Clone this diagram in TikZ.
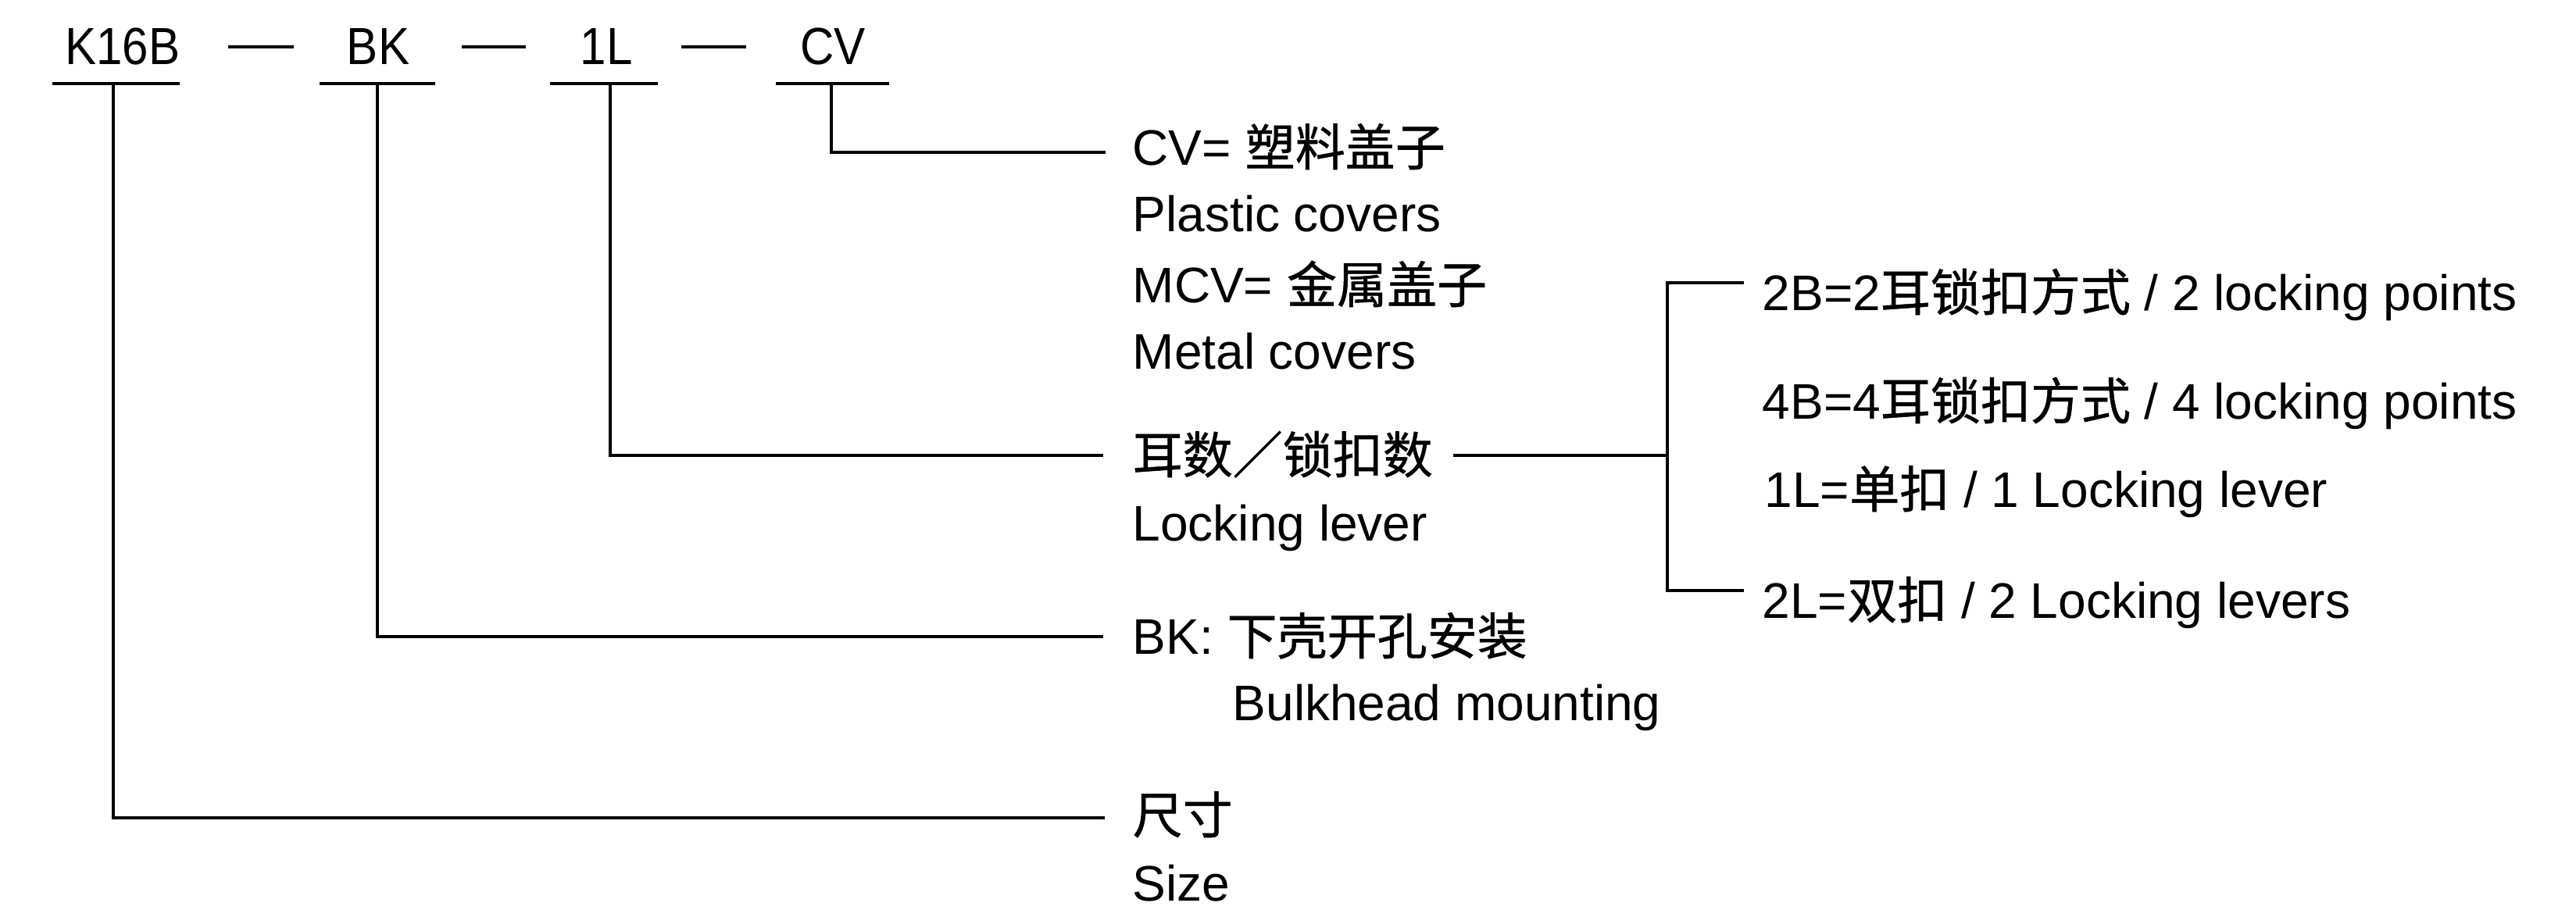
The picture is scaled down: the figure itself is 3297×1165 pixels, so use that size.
\documentclass[tikz,border=0pt]{standalone}
\usepackage{fontspec}
\setmainfont{Liberation Sans}
\newfontfamily\cjk[FakeBold=0.8]{Noto Sans CJK SC}
\newfontfamily\condsans[FakeStretch=0.9]{Liberation Sans}
\begin{document}
\begin{tikzpicture}[x=0.01cm,y=-0.01cm,
  code/.style={inner sep=0pt, anchor=base, font=\condsans\fontsize{19pt}{22pt}\selectfont},
  lbl/.style={inner sep=0pt, anchor=base west, font=\fontsize{18.2pt}{22pt}\selectfont},
  ln/.style={line width=1.15pt},
  uline/.style={line width=1.4pt},
  dashln/.style={line width=1.3pt}]
\useasboundingbox (0,0) rectangle (3297,1165);
\fill[white] (0,0) rectangle (3297,1165);

% code parts
\node[code] (k16b) at (157,83) {K16B};
\node[code] (bk) at (484,83) {BK};
\node[code] (l1) at (776,83) {1L};
\node[code] (cv) at (1066,83) {CV};

% separating dashes
\coordinate (d1a) at (292,60); \coordinate (d1b) at (376,60);
\coordinate (d2a) at (591,60); \coordinate (d2b) at (673,60);
\coordinate (d3a) at (872,60); \coordinate (d3b) at (955,60);
\draw[dashln] (d1a) -- (d1b);
\draw[dashln] (d2a) -- (d2b);
\draw[dashln] (d3a) -- (d3b);

% underlines
\coordinate (uKa) at (67,107);  \coordinate (uKb) at (230,107);
\coordinate (uBa) at (409,107); \coordinate (uBb) at (557,107);
\coordinate (uLa) at (704,107); \coordinate (uLb) at (842,107);
\coordinate (uCa) at (993,107); \coordinate (uCb) at (1138,107);
\draw[uline] (uKa) -- (uKb);
\draw[uline] (uBa) -- (uBb);
\draw[uline] (uLa) -- (uLb);
\draw[uline] (uCa) -- (uCb);

% description texts
\node[lbl] (cvt) at (1449,212) {CV= {\cjk 塑料盖子}};
\node[lbl] (pc) at (1449,297) {Plastic covers};
\node[lbl] (mcv) at (1449,388) {MCV= {\cjk 金属盖子}};
\node[lbl] (mc) at (1449,473) {Metal covers};
\node[lbl] (ers) at (1449,606) {{\cjk 耳数／锁扣数}};
\node[lbl] (ll) at (1449,693) {Locking lever};
\node[lbl] (bkt) at (1449,838) {BK: {\cjk 下壳开孔安装}};
\node[lbl] (bm) at (1577,923) {Bulkhead mounting};
\node[lbl] (cc) at (1449,1067) {{\cjk 尺寸}};
\node[lbl] (sz) at (1449,1153) {Size};

% options
\node[lbl] (o2b) at (2255,398) {2B=2{\cjk 耳锁扣方式} / 2 locking points};
\node[lbl] (o4b) at (2255,537) {4B=4{\cjk 耳锁扣方式} / 4 locking points};
\node[lbl] (o1l) at (2258,650) {1L={\cjk 单扣} / 1 Locking lever};
\node[lbl] (o2l) at (2255,792) {2L={\cjk 双扣} / 2 Locking levers};

% leader lines
\coordinate (tK) at (145,107);  \coordinate (eK) at (1414,1047);
\coordinate (tB) at (483,107);  \coordinate (eB) at (1412,815);
\coordinate (tL) at (781,107);  \coordinate (eL) at (1412,583);
\coordinate (tC) at (1064,107); \coordinate (eC) at (1415,195);
\draw[ln] (tK) |- (eK);
\draw[ln] (tB) |- (eB);
\draw[ln] (tL) |- (eL);
\draw[ln] (tC) |- (eC);

% bracket for locking options
\coordinate (lA) at (1860,583);
\coordinate (br) at (2134,583);
\coordinate (bTop) at (2232,362);
\coordinate (bBot) at (2232,756);
\draw[ln] (lA) -- (br);
\draw[ln] (bTop) -| (br) |- (bBot);
\end{tikzpicture}
\end{document}
